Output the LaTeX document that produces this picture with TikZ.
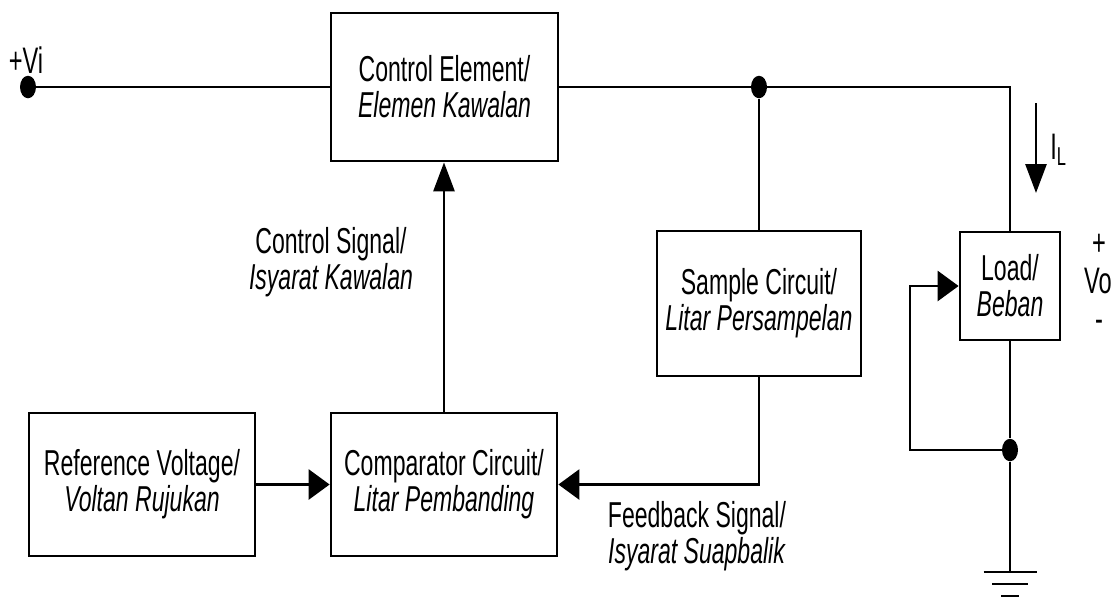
\documentclass[tikz,border=0pt]{standalone}
\usepackage{fontspec}
\setmainfont{Liberation Sans}[FakeStretch=0.64]
\usetikzlibrary{arrows.meta,shapes.geometric}

\tikzset{
  block/.style={draw,line width=1.6pt,align=center,inner sep=0pt,
    font=\fontsize{20.5}{20.5}\selectfont},
  wire/.style={line width=1.6pt},
  harrow/.style={wire,-{Triangle[length=0.42cm,width=0.6cm]}},
  varrow/.style={wire,-{Triangle[length=0.58cm,width=0.42cm]}},
  dot/.style={ellipse,fill,inner sep=0pt,minimum width=0.32cm,minimum height=0.45cm},
  sig/.style={align=center,font=\fontsize{20.5}{20.5}\selectfont},
  term/.style={font=\fontsize{21}{21}\selectfont,inner sep=0pt}
}

\begin{document}
\begin{tikzpicture}[x=0.02cm,y=-0.02cm]
    \useasboundingbox (0,0) rectangle (1119,596);

    % Blocks
    \node[block,minimum width=4.54cm,minimum height=2.96cm] (ctrl) at (444.5,87)
        {Control Element/\\\textit{Elemen Kawalan}};
    \node[block,minimum width=4.08cm,minimum height=2.9cm] (samp) at (759,303.5)
        {Sample Circuit/\\\textit{Litar Persampelan}};
    \node[block,minimum width=2.0cm,minimum height=2.16cm] (load) at (1010,286)
        {Load/\\\textit{Beban}};
    \node[block,minimum width=4.52cm,minimum height=2.86cm] (ref) at (142,484.5)
        {Reference Voltage/\\\textit{Voltan Rujukan}};
    \node[block,minimum width=4.52cm,minimum height=2.86cm] (comp) at (444,484.5)
        {Comparator Circuit/\\\textit{Litar Pembanding}};

    % Junctions
    \node[dot] (vin) at (28,87) {};
    \node[dot] (junc) at (759,87) {};
    \node[dot] (gj) at (1010,450) {};
    \coordinate (lp) at (910,450);
    \coordinate (gnd) at (1010,572);
    \coordinate (ia) at (1036,103);
    \coordinate (ib) at (1036,193);

    % Main line
    \draw[wire] (vin) -- (vin -| ctrl.west);
    \draw[wire] (ctrl.east |- vin) -- (junc) -| (load.north);
    \draw[wire] (junc) -- (samp.north);

    % Feedback loop
    \draw[harrow] (ref) -- (comp);
    \draw[harrow] (samp.south) |- (comp.east);
    \draw[varrow] (comp.north) -- (comp.north |- ctrl.south);

    % Load and ground
    \draw[wire] (load.south) -- (gj) -- (gnd);
    \draw[harrow] (gj) -- (lp) |- (load.west);
    \draw[wire] ([xshift=-0.53cm]gnd) -- ([xshift=0.53cm]gnd);
    \draw[wire] ([xshift=-0.36cm,yshift=-0.24cm]gnd) -- ([xshift=0.36cm,yshift=-0.24cm]gnd);
    \draw[wire] ([xshift=-0.18cm,yshift=-0.48cm]gnd) -- ([xshift=0.18cm,yshift=-0.48cm]gnd);
    \draw[varrow] (ia) -- (ib);

    % Labels
    \node[term] (vil) at (26,60) {+Vi};
    \node[term,anchor=west] (il) at (1050,150) {I\textsubscript{L}};
    \node[term] (vp) at (1099,245) {+};
    \node[term] (vo) at (1098,281) {Vo};
    \node[term] (vm) at (1099,326) {-};
    \node[sig] (cs) at (331,262) {Control Signal/\\\textit{Isyarat Kawalan}};
    \node[sig] (fb) at (697,536) {Feedback Signal/\\\textit{Isyarat Suapbalik}};
\end{tikzpicture}
\end{document}
